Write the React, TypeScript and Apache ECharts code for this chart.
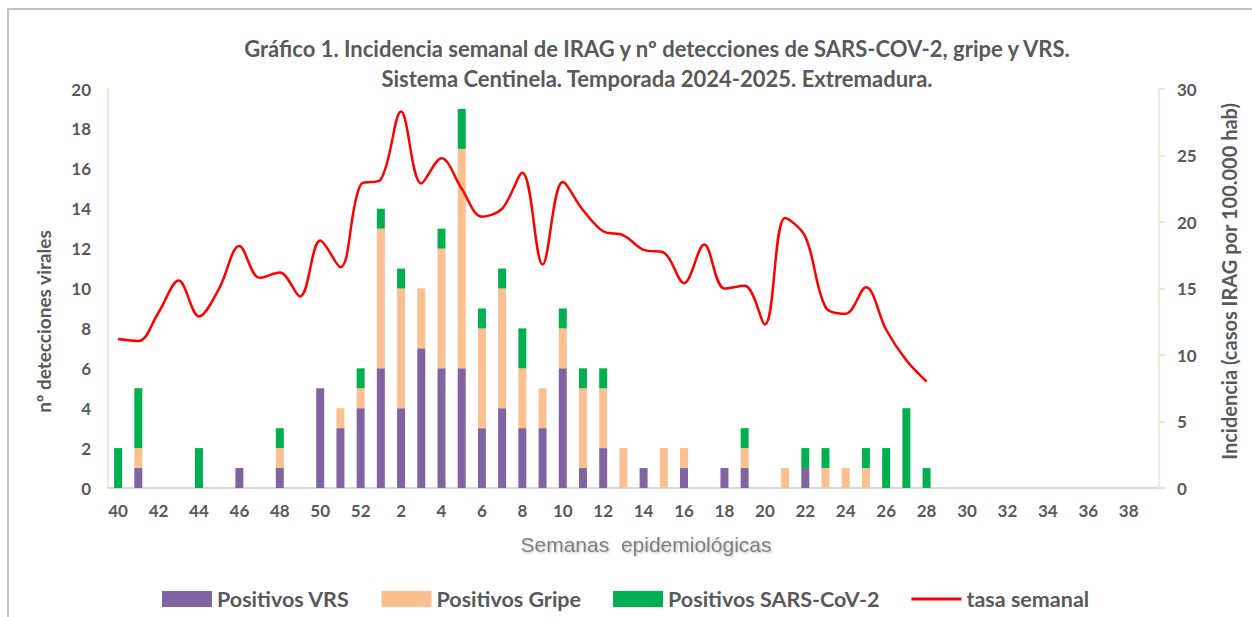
import React, { useEffect, useRef } from "react";
import * as echarts from "echarts";

const weeks: string[] = [
  "40", "41", "42", "43", "44", "45", "46", "47", "48", "49", "50", "51", "52",
  "1", "2", "3", "4", "5", "6", "7", "8", "9", "10", "11", "12", "13", "14", "15", "16", "17", "18", "19", "20",
  "21", "22", "23", "24", "25", "26", "27", "28", "29", "30", "31", "32", "33", "34", "35", "36", "37", "38", "39",
];

const positivosVRS: number[] = [
  0, 1, 0, 0, 0, 0, 1, 0, 1, 0, 5, 3, 4,
  6, 4, 7, 6, 6, 3, 4, 3, 3, 6, 1, 2, 0, 1, 0, 1, 0, 1, 1, 0,
  0, 1, 0, 0, 0, 0, 0, 0, 0, 0, 0, 0, 0, 0, 0, 0, 0, 0, 0,
];

const positivosGripe: number[] = [
  0, 1, 0, 0, 0, 0, 0, 0, 1, 0, 0, 1, 1,
  7, 6, 3, 6, 11, 5, 6, 3, 2, 2, 4, 3, 2, 0, 2, 1, 0, 0, 1, 0,
  1, 0, 1, 1, 1, 0, 0, 0, 0, 0, 0, 0, 0, 0, 0, 0, 0, 0, 0,
];

const positivosSARS: number[] = [
  2, 3, 0, 0, 2, 0, 0, 0, 1, 0, 0, 0, 1,
  1, 1, 0, 1, 2, 1, 1, 2, 0, 1, 1, 1, 0, 0, 0, 0, 0, 0, 1, 0,
  0, 1, 1, 0, 1, 2, 4, 1, 0, 0, 0, 0, 0, 0, 0, 0, 0, 0, 0,
];

const tasaSemanal: (number | null)[] = [
  11.2, 11.05, 13.2, 15.6, 12.9, 15.0, 18.2, 15.8, 16.2, 14.4, 18.6, 16.6, 22.8,
  23.2, 28.3, 22.9, 24.8, 22.5, 20.4, 21.0, 23.7, 16.8, 23.0, 20.9, 19.3, 19.0, 17.9, 17.7, 15.4, 18.3, 15.0, 15.2, 12.3,
  20.3, 18.9, 13.6, 13.1, 15.1, 11.9, 9.6, 8.0, null, null, null, null, null, null, null, null, null, null, null,
];

const FONT = "Lato, 'Noto Sans', sans-serif";
const GREY = "#595959";

export default function App() {
  const ref = useRef<HTMLDivElement>(null);

  useEffect(() => {
    if (!ref.current) return;
    const chart = echarts.init(ref.current, undefined, { renderer: "svg" });
    const barW = 8;
    chart.setOption({
      animation: false,
      backgroundColor: "#ffffff",
      textStyle: { fontFamily: FONT },
      title: {
        text: "Gráfico 1. Incidencia semanal de IRAG y nº detecciones de SARS-COV-2, gripe y VRS.\nSistema Centinela. Temporada 2024-2025. Extremadura.",
        left: 652,
        top: 28,
        textAlign: "center",
        textStyle: {
          fontFamily: FONT,
          fontSize: 22,
          fontWeight: "bold",
          color: GREY,
          lineHeight: 30,
        },
      },
      graphic: [
        {
          type: "rect",
          shape: { x: 8, y: 9, width: 1400, height: 800 },
          style: { fill: "none", stroke: "#c0c0c0", lineWidth: 2 },
          silent: true,
        },
      ],
      legend: {
        left: 157,
        top: 583,
        itemWidth: 50,
        itemHeight: 16,
        itemGap: 32,
        textStyle: { fontFamily: FONT, fontSize: 21.5, fontWeight: "bold", color: GREY },
        data: [
          { name: "Positivos VRS", icon: "rect" },
          { name: "Positivos Gripe", icon: "rect" },
          { name: "Positivos SARS-CoV-2", icon: "rect" },
          { name: "tasa semanal", icon: "path://M0,0 L48,0 L48,3 L0,3 Z" },
        ],
      },
      grid: { left: 108, right: 93, top: 89, bottom: 129, containLabel: false },
      xAxis: {
        type: "category",
        data: weeks,
        name: "Semanas  epidemiológicas",
        nameLocation: "middle",
        nameGap: 46,
        nameTextStyle: {
          fontFamily: "'Liberation Sans', Arial, sans-serif",
          fontSize: 21,
          color: "#7f7f7f",
          padding: [0, 0, 0, 25],
          textShadowColor: "rgba(0,0,0,0.25)",
          textShadowBlur: 2,
          textShadowOffsetX: 1,
          textShadowOffsetY: 1,
        },
        axisLine: { show: true, lineStyle: { color: "#d9d9d9", width: 2 } },
        axisTick: { show: false },
        axisLabel: {
          interval: 1,
          margin: 14,
          fontFamily: FONT,
          fontSize: 17,
          fontWeight: "bold",
          color: GREY,
        },
      },
      yAxis: [
        {
          type: "value",
          min: 0,
          max: 20,
          interval: 2,
          name: "nº detecciones virales",
          nameLocation: "middle",
          nameRotate: 90,
          nameGap: 55,
          nameTextStyle: {
            fontFamily: FONT,
            fontSize: 19,
            fontWeight: "bold",
            color: GREY,
            padding: [0, 66, 0, 0],
          },
          splitLine: { show: false },
          axisLine: { show: true, lineStyle: { color: "#ede9dd", width: 2 } },
          axisTick: { show: false },
          axisLabel: {
            margin: 17,
            fontFamily: FONT,
            fontSize: 17,
            fontWeight: "bold",
            color: GREY,
          },
        },
        {
          type: "value",
          min: 0,
          max: 30,
          interval: 5,
          position: "right",
          name: "Incidencia (casos IRAG por 100.000 hab)",
          nameLocation: "middle",
          nameRotate: 90,
          nameGap: 60,
          nameTextStyle: {
            fontFamily: FONT,
            fontSize: 20,
            fontWeight: "bold",
            color: GREY,
            padding: [0, 0, 0, 14],
          },
          splitLine: { show: false },
          axisLine: { show: true, lineStyle: { color: "#ede9dd", width: 2 } },
          axisTick: { show: true, length: 6, lineStyle: { color: "#ede9dd", width: 2 } },
          axisLabel: {
            margin: 18,
            fontFamily: FONT,
            fontSize: 17,
            fontWeight: "bold",
            color: GREY,
          },
        },
      ],
      series: [
        {
          name: "Positivos VRS",
          type: "bar",
          stack: "pos",
          barWidth: barW,
          yAxisIndex: 0,
          itemStyle: { color: "#8064a2" },
          data: positivosVRS,
        },
        {
          name: "Positivos Gripe",
          type: "bar",
          stack: "pos",
          barWidth: barW,
          yAxisIndex: 0,
          itemStyle: { color: "#fac090" },
          data: positivosGripe,
        },
        {
          name: "Positivos SARS-CoV-2",
          type: "bar",
          stack: "pos",
          barWidth: barW,
          yAxisIndex: 0,
          itemStyle: { color: "#00b050" },
          data: positivosSARS,
        },
        {
          name: "tasa semanal",
          type: "line",
          yAxisIndex: 1,
          smooth: 0.35,
          symbol: "none",
          connectNulls: false,
          lineStyle: { color: "#ff0000", width: 2.5 },
          itemStyle: { color: "#ff0000" },
          data: tasaSemanal,
          z: 5,
        },
      ],
    });
    return () => chart.dispose();
  }, []);

  return (
    <div
      ref={ref}
      style={{ position: "absolute", left: 0, top: 0, width: 1252, height: 617 }}
    />
  );
}
